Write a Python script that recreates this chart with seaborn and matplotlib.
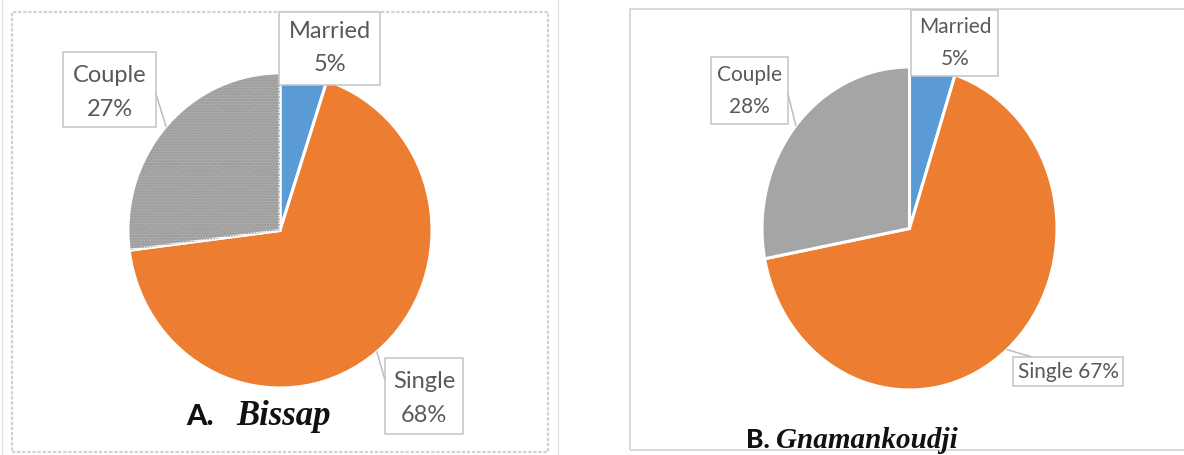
import matplotlib
matplotlib.use("Agg")
import matplotlib.pyplot as plt
import matplotlib.patches as mpatches
import matplotlib.lines as mlines
import numpy as np
import seaborn as sns

# Marital status shares for the two sites
categories = ["Married", "Single", "Couple"]
bissap_pct = [5, 68, 27]
gnaman_pct = [5, 67, 28]
panel_titles = [("A.", "Bissap"), ("B.", "Gnamankoudji")]

sns.set_theme(style="white")
plt.rcParams["font.family"] = ["Lato", "DejaVu Sans"]

colors = ["#5B9BD5", "#ED7D31", "#A5A5A5"]
W, H = 1184, 455
fig = plt.figure(figsize=(W / 100, H / 100), dpi=100)
fig.patch.set_facecolor("white")


def fx(x):
    return x / W


def fy(y):
    return 1 - y / H


def frame(x0, y0, x1, y1, **kw):
    fig.add_artist(mpatches.Rectangle((fx(x0), fy(y1)), fx(x1) - fx(x0), fy(y0) - fy(y1),
                                      transform=fig.transFigure, fill=False, **kw))


# panel frames
frame(12, 12, 548, 452, edgecolor="#D2D2D2", linewidth=1.6, linestyle=(0, (1.5, 0.8)))
frame(630, 9, 1200, 450, edgecolor="#D6D6D6", linewidth=1.3)
for xv in (2, 558):
    fig.add_artist(mlines.Line2D([fx(xv), fx(xv)], [fy(0), fy(H)], transform=fig.transFigure,
                                 color="#E2E2E2", linewidth=1))


def draw_pie(rect, values, stipple):
    x0, y0, x1, y1 = rect
    ax = fig.add_axes([fx(x0), fy(y1), fx(x1) - fx(x0), fy(y0) - fy(y1)])
    wedges, _ = ax.pie(values, colors=colors, startangle=90, counterclock=False,
                       wedgeprops=dict(edgecolor="white", linewidth=2.2))
    ax.set_xlim(-1, 1)
    ax.set_ylim(-1, 1)
    ax.set_aspect("auto")
    ax.axis("off")
    if stipple:
        w = wedges[2]
        w.set_facecolor("#ABABAB")
        ax.add_patch(mpatches.Wedge((0, 0), 0.99, w.theta1, w.theta2, facecolor="none",
                                    edgecolor="#969696", hatch="......", linewidth=0))
    return ax, wedges


def label_box(box, lines_y, texts, cx, size):
    x0, y0, x1, y1 = box
    fig.add_artist(mpatches.Rectangle((fx(x0), fy(y1)), fx(x1) - fx(x0), fy(y0) - fy(y1),
                                      transform=fig.transFigure, facecolor="white",
                                      edgecolor="#C4C4C4", linewidth=1.1, zorder=5))
    for ty, t in zip(lines_y, texts):
        fig.text(fx(cx), fy(ty), t, ha="center", va="center", fontsize=size,
                 color="#595959", zorder=6)


def leader(ax, wedge, end):
    mid = np.deg2rad((wedge.theta1 + wedge.theta2) / 2)
    ax.annotate("", xy=(np.cos(mid), np.sin(mid)), xycoords="data",
                xytext=(fx(end[0]), fy(end[1])), textcoords="figure fraction",
                arrowprops=dict(arrowstyle="-", color="#BDBDBD", lw=1.1,
                                shrinkA=0, shrinkB=0), annotation_clip=False)


# Panel A
axA, wA = draw_pie((128, 73, 432, 388), bissap_pct, stipple=True)
leader(axA, wA[2], (156, 94))
leader(axA, wA[1], (385, 380))
label_box((279, 12, 380, 85), (31, 65), [categories[0], f"{bissap_pct[0]}%"], 330, 17)
label_box((63, 52, 156, 127), (75, 110), [categories[2], f"{bissap_pct[2]}%"], 110, 17)
label_box((385, 358, 463, 434), (382, 416), [categories[1], f"{bissap_pct[1]}%"], 424, 17)

# Panel B
axB, wB = draw_pie((762, 67, 1057, 390), gnaman_pct, stipple=False)
leader(axB, wB[2], (788, 94))
leader(axB, wB[1], (1032, 357))
label_box((911, 10, 998, 76), (27, 59), [categories[0], f"{gnaman_pct[0]}%"], 955, 15)
label_box((711, 57, 788, 124), (75, 107), [categories[2], f"{gnaman_pct[2]}%"], 749, 15)
label_box((1013, 357, 1123, 386), (372,), [f"{categories[1]} {gnaman_pct[1]}%"], 1068, 15)

# Panel captions
fig.text(fx(186), fy(425), panel_titles[0][0], fontsize=21, fontweight="black",
         color="#111111", va="baseline", ha="left")
fig.text(fx(236), fy(425), panel_titles[0][1], fontsize=25, fontweight="bold",
         fontstyle="italic", family=["Liberation Serif"], color="#111111",
         va="baseline", ha="left")
fig.text(fx(746), fy(448), panel_titles[1][0], fontsize=19, fontweight="black",
         color="#111111", va="baseline", ha="left")
fig.text(fx(776), fy(448), panel_titles[1][1], fontsize=21, fontweight="bold",
         fontstyle="italic", family=["Liberation Serif"], color="#111111",
         va="baseline", ha="left")

fig.savefig("out.png", dpi=100, facecolor="white")
